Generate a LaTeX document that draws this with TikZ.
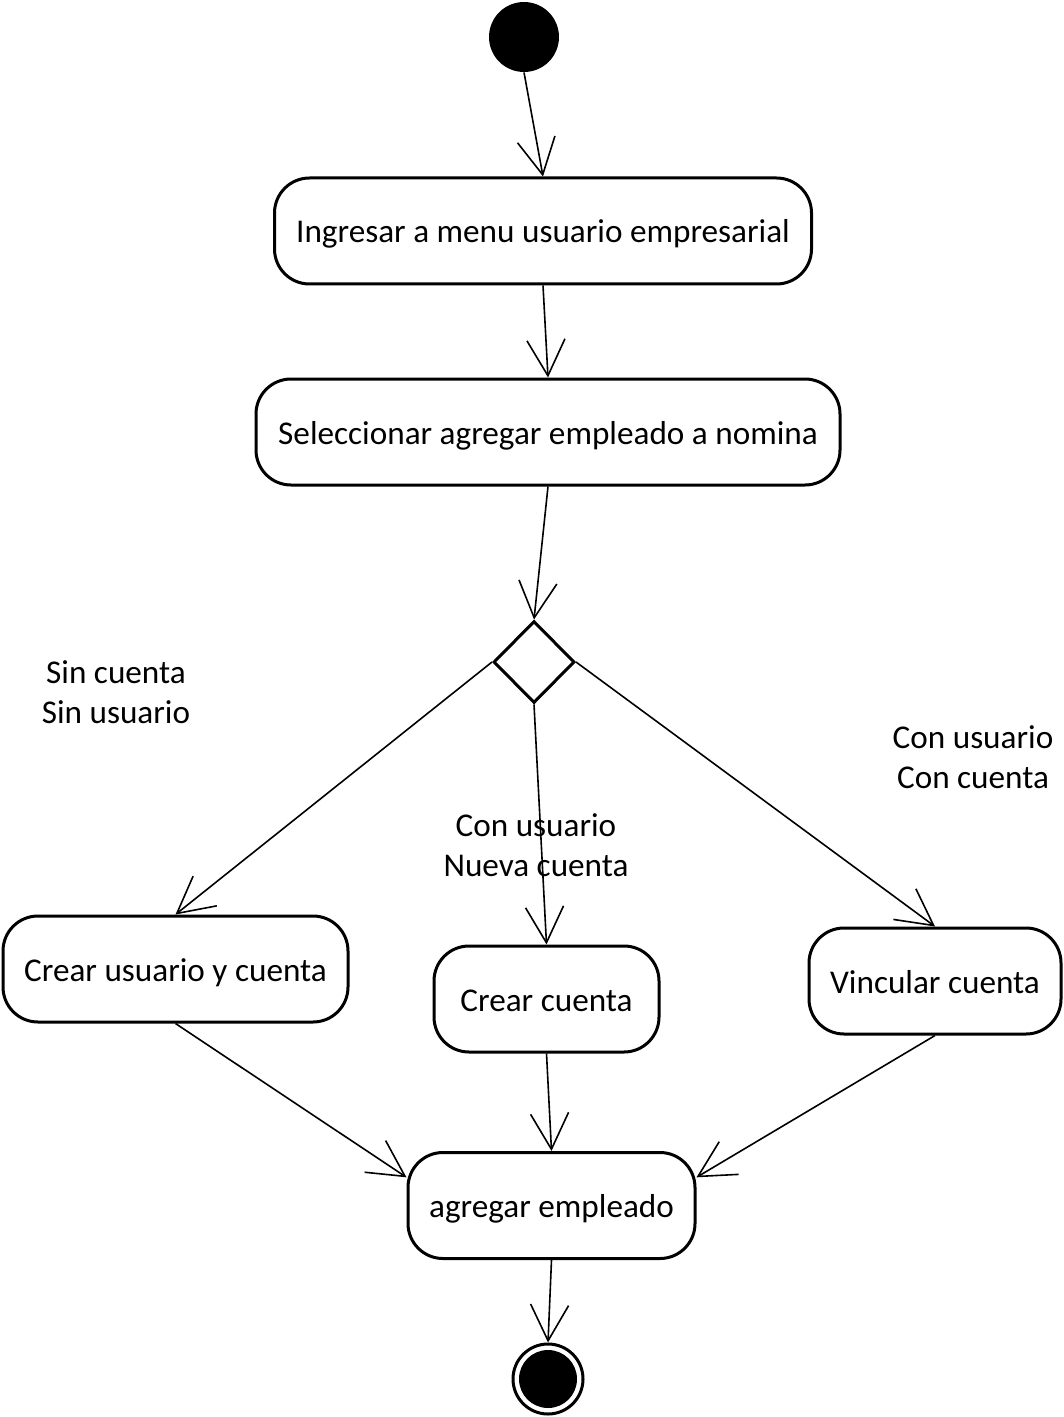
\documentclass[tikz,border=0pt]{standalone}
\usepackage{fontspec}
\setmainfont{Carlito}
\usetikzlibrary{arrows.meta,positioning,shapes.geometric}
\tikzset{
  act/.style={draw,line width=1.5pt,rounded corners=17.5pt,minimum height=53pt,align=center,inner sep=0pt,text height=15.5pt,text depth=3.5pt},
  dec/.style={draw,diamond,line width=1.5pt,minimum width=40.5pt,minimum height=41pt,inner sep=0pt},
  ini/.style={circle,fill=black,minimum size=35pt,inner sep=0pt},
  fin/.style={circle,draw,line width=1.5pt,minimum size=35pt,inner sep=0pt},
  guard/.style={align=center,inner sep=0pt},
  ar/.style={-{Straight Barb[length=18pt,width=19pt,line width=0.8pt]},line width=0.8pt},
}

\begin{document}
\begin{tikzpicture}[x=0.5pt,y=-0.5pt,font=\fontsize{16.6pt}{20pt}\selectfont]
  \useasboundingbox (0,0) rectangle (1064,1417);
  \node[ini] (start) at (524,37) {};
  \node[act,minimum width=268.5pt] (menu) at (543,231) {Ingresar a menu usuario empresarial};
  \node[act,minimum width=292pt] (sel) at (548,432) {Seleccionar agregar empleado a nomina};
  \node[dec] (d) at (534,662) {};
  \node[act,minimum width=172.5pt] (cuc) at (175.5,969) {Crear usuario y cuenta};
  \node[act,minimum width=112.5pt] (cc) at (546.5,999) {Crear cuenta};
  \node[act,minimum width=126pt] (vc) at (935,981) {Vincular cuenta};
  \node[act,minimum width=143.5pt] (emp) at (551.5,1205.5) {agregar empleado};
  \node[fin] (end) at (548,1379) {};
  \node[circle,fill=black,minimum size=29pt,inner sep=0pt] (endin) at (end) {};
  % guards
  \node[guard] (g1) at (116,692) {Sin cuenta\\Sin usuario};
  \node[guard] (g2) at (536,845) {Con usuario\\Nueva cuenta};
  \node[guard] (g3) at (973,757) {Con usuario\\Con cuenta};
  % flows
  \draw[ar] (start.south) -- (menu.north);
  \draw[ar] (menu.south) -- (sel.north);
  \draw[ar] (sel.south) -- (d.north);
  \draw[ar] (d.west) -- (cuc.north);
  \draw[ar] (d.south) -- (cc.north);
  \draw[ar] (d.east) -- (vc.north);
  \draw[ar] (cuc.south) -- (emp.169);
  \draw[ar] (cc.south) -- (emp.north);
  \draw[ar] (vc.south) -- (emp.11);
  \draw[ar] (emp.south) -- (end.north);
\end{tikzpicture}
\end{document}
